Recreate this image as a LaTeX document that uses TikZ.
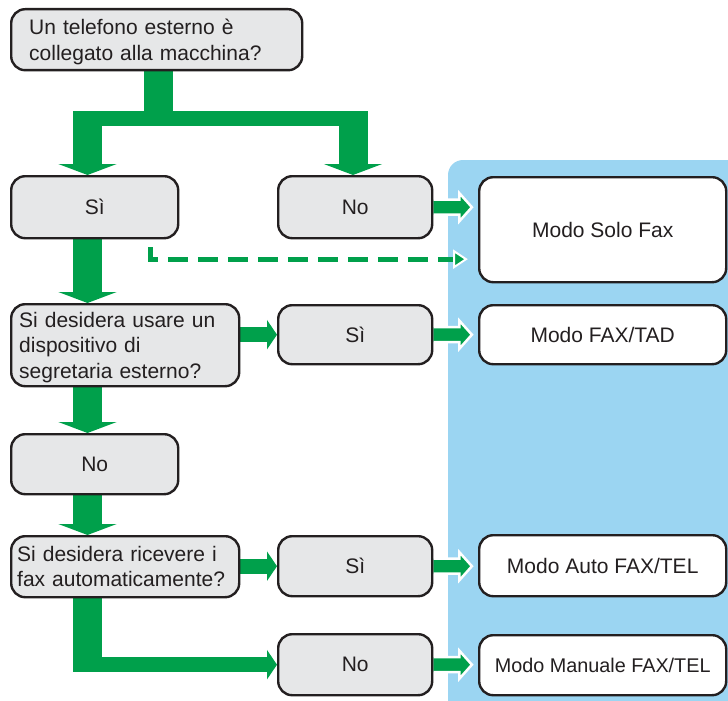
\documentclass[tikz,border=0pt]{standalone}
\usepackage{fontspec}
\setmainfont{Liberation Sans}
\usetikzlibrary{arrows.meta,calc}
\pgfdeclarelayer{panel}
\pgfdeclarelayer{arrows}
\pgfsetlayers{panel,arrows,main}
\definecolor{fgreen}{RGB}{0,160,75}
\definecolor{panelblue}{RGB}{155,213,242}
\definecolor{boxgray}{RGB}{230,231,232}
\definecolor{ink}{RGB}{35,31,32}
\begin{document}
\begin{tikzpicture}[x=1pt,y=-1pt,
  box/.style={draw=ink, line width=2.4pt, rounded corners=14pt, anchor=north west, text=ink,
    font=\fontsize{21}{25.5}\selectfont, inner sep=0pt},
  gbox/.style={box, fill=boxgray},
  wbox/.style={box, fill=white},
  qbox/.style={gbox, align=left},
  fatv/.style={draw=fgreen, color=fgreen, line width=29pt, -{Triangle[width=58pt,length=11pt]}},
  fatline/.style={draw=fgreen, line width=29pt},
  barline/.style={draw=fgreen, line width=15pt},
  hfat/.style={draw=fgreen, color=fgreen, line width=15pt, -{Triangle[width=29pt,length=10pt]}},
  outarrow/.style={fill=fgreen, draw=white, line width=2.5pt, line join=miter},
  dashline/.style={draw=fgreen, line width=5pt, dash pattern=on 20pt off 10pt}
]
\useasboundingbox (0,0) rectangle (728,701);

% nodes
\node[qbox, minimum width=291pt, minimum height=61pt, text width=255pt, inner xsep=18pt] (Q1) at (10,8)
  {Un telefono esterno è\\\smash{collegato alla macchina?}};
\node[gbox, minimum width=167pt, minimum height=62pt] (Si1) at (10,175) {Sì};
\node[gbox, minimum width=154pt, minimum height=62pt] (No1) at (277,175) {No};
\node[qbox, minimum width=228pt, minimum height=82pt, text width=212pt, inner xsep=8pt] (Q2) at (10,303)
  {Si desidera usare un\\dispositivo di\\\smash{segretaria esterno?}};
\node[gbox, minimum width=154pt, minimum height=59pt] (Si2) at (277,304) {Sì};
\node[gbox, minimum width=167pt, minimum height=60pt] (No2) at (10,433) {No};
\node[qbox, minimum width=228pt, minimum height=61pt, text width=216pt, inner xsep=6pt] (Q3) at (10,535)
  {Si desidera ricevere i\\fax automaticamente?};
\node[gbox, minimum width=154pt, minimum height=60pt] (Si3) at (277,535) {Sì};
\node[gbox, minimum width=154pt, minimum height=61pt] (No3) at (277,633) {No};

\node[wbox, minimum width=247pt, minimum height=105pt] (R1) at (478,176) {Modo Solo Fax};
\node[wbox, minimum width=247pt, minimum height=59pt] (R2) at (478,304) {Modo FAX/TAD};
\node[wbox, minimum width=247pt, minimum height=61pt] (R3) at (478,534) {Modo Auto FAX/TEL};
\node[wbox, minimum width=247pt, minimum height=60pt, font=\fontsize{19.8}{24}\selectfont] (R4) at (478,634) {Modo Manuale FAX/TEL};

% helper coordinates
\coordinate (jL) at (87.5,118.5);
\coordinate (jR) at (353,118.5);
\coordinate (barL) at (73,118.5);
\coordinate (barR) at (368,118.5);
\coordinate (trunkB) at (158.5,126);
\coordinate (elbow) at (jL |- No3.west);
\coordinate (dstart) at (150,247);
\coordinate (dend) at ($(R1.west)+(-24,29.5)$);

\begin{pgfonlayer}{panel}
  \fill[panelblue, rounded corners=15pt] (448,160) rectangle (760,740);
\end{pgfonlayer}

\begin{pgfonlayer}{arrows}
  % split from first question
  \draw[fatline] (Q1.south -| trunkB) -- (trunkB);
  \draw[barline] (barL) -- (barR);
  \draw[fatv] (jL) -- (jL |- Si1.north);
  \draw[fatv] (jR) -- (jR |- No1.north);
  % vertical chain
  \draw[fatv] (jL |- Si1.south) -- (jL |- Q2.north);
  \draw[fatv] (jL |- Q2.south) -- (jL |- No2.north);
  \draw[fatv] (jL |- No2.south) -- (jL |- Q3.north);
  % Q3 -> No3 elbow
  \draw[fatline] (jL |- Q3.south) -- ([yshift=-7.5pt]elbow);
  \draw[hfat] ([xshift=-14.5pt]elbow) -- (No3.west);
  % horizontal question -> Si
  \draw[hfat] (Q2.east |- Si2.west) -- (Si2.west);
  \draw[hfat] (Q3.east |- Si3.west) -- (Si3.west);
  % arrows into the result panel
  \filldraw[outarrow] ([yshift=7.5pt]No1.east) -- ++(26,0) -- ++(0,-6.5) -- ++(12.5,14) -- ++(-12.5,14) -- ++(0,-6.5) -- ([yshift=-7.5pt]No1.east);
  \filldraw[outarrow] ([yshift=7.5pt]Si2.east) -- ++(26,0) -- ++(0,-6.5) -- ++(12.5,14) -- ++(-12.5,14) -- ++(0,-6.5) -- ([yshift=-7.5pt]Si2.east);
  \filldraw[outarrow] ([yshift=7.5pt]Si3.east) -- ++(26,0) -- ++(0,-6.5) -- ++(12.5,14) -- ++(-12.5,14) -- ++(0,-6.5) -- ([yshift=-7.5pt]Si3.east);
  \filldraw[outarrow] ([yshift=7.5pt]No3.east) -- ++(26,0) -- ++(0,-6.5) -- ++(12.5,14) -- ++(-12.5,14) -- ++(0,-6.5) -- ([yshift=-7.5pt]No3.east);
  % dashed arrow
  \draw[dashline] (dstart) |- (dend);
  \filldraw[outarrow, line width=2pt] ([yshift=8pt]dend) -- ++(12,8) -- ++(-12,8) -- cycle;
\end{pgfonlayer}
\end{tikzpicture}
\end{document}
